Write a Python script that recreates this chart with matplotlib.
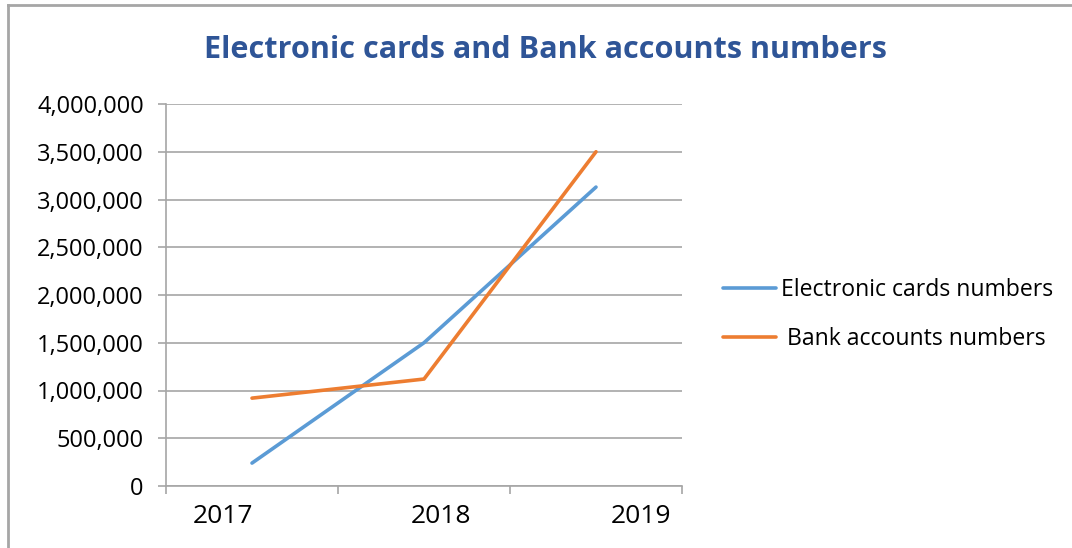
import matplotlib
matplotlib.use("Agg")
import matplotlib.pyplot as plt
from matplotlib.lines import Line2D
from matplotlib.ticker import FuncFormatter

years = ["2017", "2018", "2019"]
electronic_cards = [240000, 1500000, 3130000]
bank_accounts = [920000, 1120000, 3500000]
y_ticks = [0, 500000, 1000000, 1500000, 2000000, 2500000, 3000000, 3500000, 4000000]

FONT = "Open Sans"
BLUE = "#5B9BD5"
ORANGE = "#ED7D31"
GRID = "#A6A6A6"

fig = plt.figure(figsize=(10.72, 5.48), dpi=100)
fig.patch.set_facecolor("white")
ax = fig.add_axes([166/1072, 1-486/548, (682-166)/1072, (486-104)/548])

x = list(range(len(years)))
ax.plot(x, electronic_cards, color=BLUE, lw=2.6, solid_capstyle="round", label="Electronic cards numbers")
ax.plot(x, bank_accounts, color=ORANGE, lw=2.6, solid_capstyle="round", label=" Bank accounts numbers")

ax.set_xlim(-0.5, len(years) - 0.5)
ax.set_ylim(y_ticks[0], y_ticks[-1])
ax.set_yticks(y_ticks)
ax.yaxis.set_major_formatter(FuncFormatter(lambda v, p: f"{int(v):,}"))
ax.grid(axis="y", color=GRID, lw=1.2)
ax.set_axisbelow(True)

# category boundaries as ticks, labels offset as in reference
ax.set_xticks([i - 0.5 for i in range(len(years) + 1)])
ax.set_xticklabels([])
ax.set_xticks([-0.17, 1.1, 2.26], minor=True)
ax.set_xticklabels(years, minor=True)
ax.tick_params(axis="x", which="minor", length=0, pad=13, labelsize=19)
ax.tick_params(axis="x", which="major", length=6, color=GRID, width=1.2)
ax.tick_params(axis="y", length=6, color=GRID, width=1.2, labelsize=17, pad=10)
for lab in ax.get_xticklabels(minor=True) + ax.get_yticklabels():
    lab.set_fontfamily(FONT)

for s in ["top", "right"]:
    ax.spines[s].set_visible(False)
ax.spines["left"].set_color(GRID)
ax.spines["bottom"].set_color(GRID)
ax.spines["left"].set_linewidth(1.2)
ax.spines["bottom"].set_linewidth(1.2)

fig.text(545/1072, 1-50/548, "Electronic cards and Bank accounts numbers",
         ha="center", va="center", fontsize=22.1, fontweight="bold",
         color="#2F5597", family=FONT)

leg = fig.legend(loc="upper left", bbox_to_anchor=(723/1072, 1-278/548),
                 frameon=False, prop={"family": FONT, "size": 16.6},
                 handlelength=2.3, handletextpad=0.22, labelspacing=1.09,
                 borderpad=0, borderaxespad=0)

# outer border
fig.add_artist(Line2D([8/1072, 8/1072], [0, 1-5/548], color="#A6A6A6", lw=2, transform=fig.transFigure))
fig.add_artist(Line2D([8/1072, 1], [1-5/548, 1-5/548], color="#A6A6A6", lw=2, transform=fig.transFigure))

fig.savefig("out.png", dpi=100)
